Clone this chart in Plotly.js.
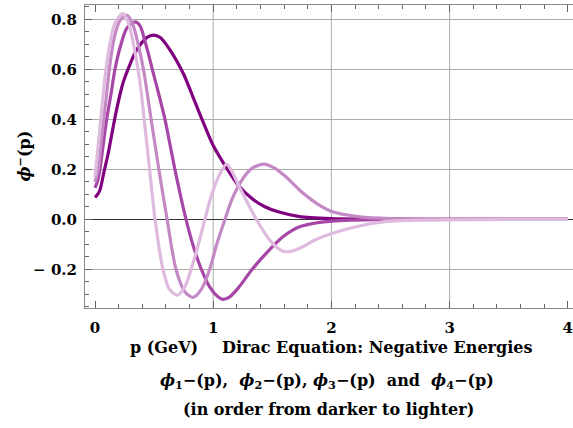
<!DOCTYPE html>
<html>
<head>
<meta charset="utf-8">
<script src="https://cdn.plot.ly/plotly-3.0.1.min.js"></script>
<style>html,body{margin:0;padding:0;background:#fff;}#chart{width:573px;height:428px;}</style>
</head>
<body>
<div id="chart"></div>
<script>
// phi1 (darkest)
const p1 = [0, 0.02, 0.042, 0.076, 0.11, 0.15, 0.183, 0.24, 0.296, 0.338, 0.38, 0.44, 0.493, 0.55, 0.645, 0.75, 0.82, 0.888, 1.0, 1.1, 1.21, 1.325, 1.437, 1.55, 1.73, 2.0, 2.3, 2.7, 3.2, 4.0];
const v1 = [0.088, 0.098, 0.117, 0.19, 0.26, 0.36, 0.44, 0.55, 0.62, 0.665, 0.697, 0.728, 0.737, 0.728, 0.67, 0.58, 0.50, 0.42, 0.295, 0.215, 0.137, 0.084, 0.05, 0.03, 0.011, 0.003, 0.001, 0, 0, 0];
// phi2
const p2 = [0, 0.02, 0.042, 0.07, 0.099, 0.135, 0.169, 0.22, 0.27, 0.34, 0.38, 0.43, 0.485, 0.54, 0.592, 0.676, 0.77, 0.84, 0.90, 0.97, 1.04, 1.08, 1.14, 1.22, 1.33, 1.44, 1.59, 1.73, 1.9, 2.1, 2.4, 2.8, 3.3, 4.0];
const v2 = [0.126, 0.15, 0.2, 0.30, 0.40, 0.50, 0.60, 0.70, 0.765, 0.79, 0.775, 0.70, 0.60, 0.50, 0.40, 0.20, 0.0, -0.12, -0.20, -0.27, -0.31, -0.32, -0.31, -0.27, -0.20, -0.14, -0.07, -0.03, -0.012, -0.004, -0.001, 0, 0, 0];
// phi3
const p3 = [0, 0.028, 0.051, 0.074, 0.098, 0.121, 0.16, 0.21, 0.268, 0.32, 0.37, 0.41, 0.475, 0.54, 0.61, 0.685, 0.76, 0.828, 0.90, 0.97, 1.03, 1.10, 1.15, 1.21, 1.27, 1.33, 1.43, 1.52, 1.59, 1.66, 1.73, 1.874, 2.01, 2.24, 2.5, 3.0, 4.0];
const v3 = [0.15, 0.2, 0.3, 0.4, 0.5, 0.6, 0.72, 0.795, 0.817, 0.78, 0.69, 0.60, 0.40, 0.20, 0.0, -0.20, -0.29, -0.312, -0.28, -0.20, -0.10, 0.0, 0.07, 0.13, 0.175, 0.205, 0.221, 0.205, 0.18, 0.15, 0.117, 0.064, 0.03, 0.01, 0.003, 0, 0];
// phi4 (lightest)
const p4 = [0, 0.028, 0.056, 0.085, 0.127, 0.169, 0.234, 0.28, 0.324, 0.38, 0.423, 0.462, 0.508, 0.575, 0.63, 0.696, 0.76, 0.82, 0.873, 0.93, 0.986, 1.05, 1.113, 1.16, 1.21, 1.27, 1.33, 1.39, 1.45, 1.52, 1.59, 1.66, 1.75, 1.874, 2.155, 2.44, 2.8, 3.5, 4.0];
const v4 = [0.17, 0.30, 0.437, 0.57, 0.704, 0.784, 0.823, 0.79, 0.704, 0.55, 0.37, 0.2, 0.0, -0.2, -0.28, -0.303, -0.27, -0.19, -0.103, 0.0, 0.097, 0.175, 0.221, 0.19, 0.14, 0.085, 0.03, -0.02, -0.065, -0.105, -0.128, -0.128, -0.112, -0.08, -0.036, -0.01, -0.003, 0, 0];

const seriesNames = ["φ1−(p)", "φ2−(p)", "φ3−(p)", "φ4−(p)"];
const seriesColors = ["#800080", "#a646a6", "#c488c4", "#dfbadf"];

const xTickVals = [0, 1, 2, 3, 4];
const xTickText = ["0", "1", "2", "3", "4"];
const yTickVals = [-0.2, 0, 0.2, 0.4, 0.6, 0.8];
const yTickText = ["\u2212 0.2", "0.0", "0.2", "0.4", "0.6", "0.8"];
const xGridVals = [1, 2, 3];

const font = "DejaVu Serif, serif";
const xs = [p1, p2, p3, p4];
const ys = [v1, v2, v3, v4];

const traces = xs.map((x, i) => ({
  x: x, y: ys[i], type: "scatter", mode: "lines", name: seriesNames[i],
  line: {color: seriesColors[i], width: 3.2, shape: "spline", smoothing: 0.8},
  hoverinfo: "skip"
}));

const shapes = xGridVals.map(v => ({
  type: "line", xref: "x", yref: "paper", x0: v, x1: v, y0: 0, y1: 1,
  line: {color: "#aaaaaa", width: 1}, layer: "below"
}));

const ann = (text, x, y, extra) => Object.assign({
  text: text, xref: "paper", yref: "paper", x: x, y: y,
  xanchor: "center", yanchor: "middle", showarrow: false, borderpad: 0,
  font: {family: font, size: 16, color: "#000", weight: "bold"}
}, extra || {});

const nb = "\u00A0";
const layout = {
  width: 573, height: 428,
  margin: {l: 85, r: 0, t: 5, b: 120, pad: 0},
  paper_bgcolor: "#fff", plot_bgcolor: "#fff",
  showlegend: false,
  xaxis: {
    range: [-0.0846, 4.044], tickmode: "array", tickvals: xTickVals, ticktext: xTickText,
    ticks: "inside", ticklen: 7, tickcolor: "#666", tickwidth: 1,
    showgrid: false, zeroline: false, showline: true, linecolor: "#888", linewidth: 1, mirror: "ticks",
    tickfont: {family: font, size: 15, color: "#000", weight: "bold"},
    ticklabelstandoff: 6, ticklabeloverflow: "allow",
    minor: {dtick: 0.2, tick0: 0, ticks: "inside", ticklen: 4, tickcolor: "#666", showgrid: false}
  },
  yaxis: {
    range: [-0.3548, 0.8572], tickmode: "array", tickvals: yTickVals, ticktext: yTickText,
    ticks: "inside", ticklen: 7, tickcolor: "#666", tickwidth: 1,
    showgrid: true, gridcolor: "#aaaaaa", gridwidth: 1,
    zeroline: true, zerolinecolor: "#333", zerolinewidth: 1,
    showline: true, linecolor: "#888", linewidth: 1, mirror: false,
    tickfont: {family: font, size: 15, color: "#000", weight: "bold"},
    ticklabelstandoff: 4, ticklabeloverflow: "allow",
    minor: {dtick: 0.05, tick0: 0, ticks: "inside", ticklen: 4, tickcolor: "#666", showgrid: false}
  },
  shapes: shapes,
  annotations: [
    ann("<i>ϕ</i><sup>\u2212</sup>(p)", -0.127, 0.5, {textangle: -90}),
    ann("p (GeV)", 0.161, -0.132),
    ann("Dirac Equation: Negative Energies", 0.599, -0.132),
    ann("<i>ϕ</i><sub>1</sub>\u2212(p)," + nb + nb + "<i>ϕ</i><sub>2</sub>\u2212(p), <i>ϕ</i><sub>3</sub>\u2212(p)" + nb + nb + "and" + nb + nb + "<i>ϕ</i><sub>4</sub>\u2212(p)", 0.496, -0.2442),
    ann("(in order from darker to lighter)", 0.499, -0.3366)
  ]
};

Plotly.newPlot("chart", traces, layout, {staticPlot: true, displayModeBar: false});
</script>
</body>
</html>
